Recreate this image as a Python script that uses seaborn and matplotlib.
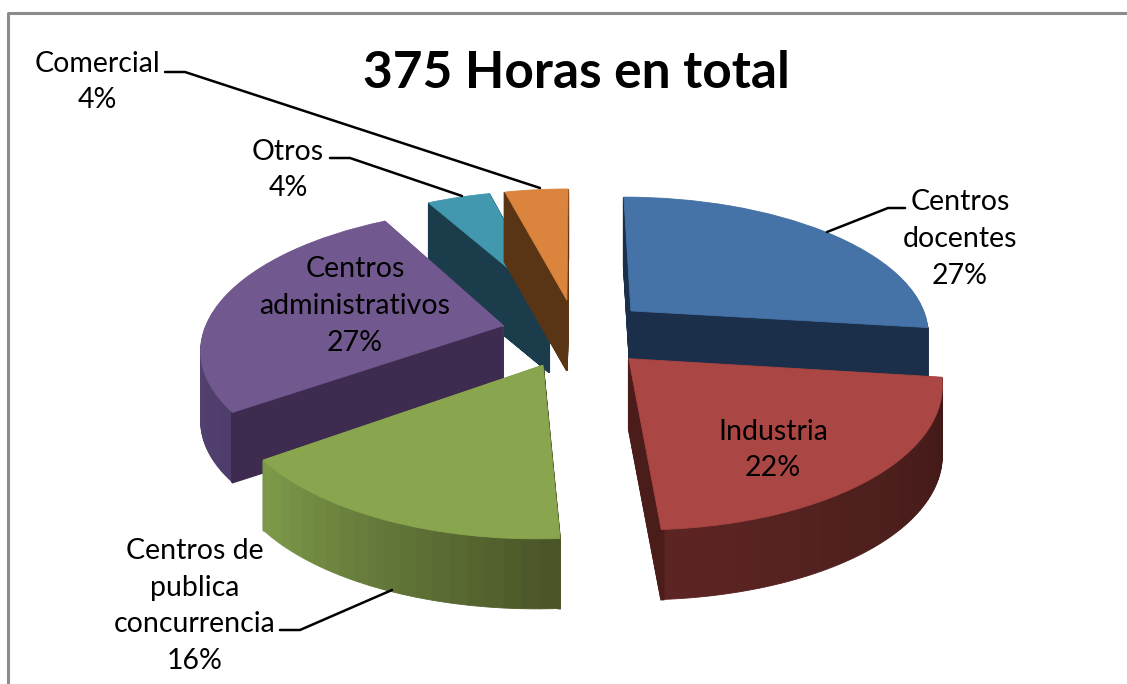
import numpy as np
import seaborn as sb
import matplotlib
matplotlib.use('Agg')
import matplotlib.pyplot as plt
from matplotlib.transforms import Transform

categories = ['Centros\ndocentes', 'Industria', 'Centros de\npublica\nconcurrencia',
              'Centros\nadministrativos', 'Otros', 'Comercial']
percents = [27, 22, 16, 27, 4, 4]
top_colors = ['#4572A7', '#AA4643', '#89A54E', '#71588F', '#4198AF', '#DB843D']
# wall colours along the rim, clockwise, first/last are the cut faces
cut_first = ['#1B2F4A', '#431A18', '#4A5628', '#3D2C50', '#1B3C4A', '#5A3515']
cut_last = ['#1B2F4A', '#4A1C1A', '#7A9648', '#5C4A7A', '#1B3C4A', '#5A3515']
rim_start = ['#1B2F4A', '#401917', '#4A5628', '#4F3E6C', '#1B3C4A', '#5A3515']
rim_end = ['#1B2F4A', '#5C2523', '#7D9A4A', '#64507F', '#1B3C4A', '#5A3515']
draw_order = [4, 5, 3, 0, 2, 1]  # back to front

label_xy = [(960, 239), (773, 450), (195, 606), (355, 306), (288, 170), (97, 82)]
leaders = [[(827, 232), (888, 208), (905, 208)],
           [],
           [(280, 630), (300, 630), (392, 590)],
           [],
           [(330, 158), (350, 158), (462, 196)],
           [(165, 72), (185, 72), (540, 188)]]

CENTER = (576, 333)
RX, RY, PERSP = 300, 137, 0.15
EXPLODE = 0.25
DEPTH = 70
STEP = 1
N_RIM = 20


class Tilt(Transform):
    # turns the flat unit pie into picture pixels, seen at an angle
    input_dims = 2
    output_dims = 2

    def __init__(self, drop):
        super().__init__()
        self.drop = drop

    def transform_non_affine(self, xy):
        xy = np.asarray(xy)
        w = 1 + PERSP * xy[:, 1]
        return np.column_stack([CENTER[0] + RX * xy[:, 0] / w,
                                CENTER[1] - RY * xy[:, 1] / w + self.drop])


sb.set_theme(style='white')
plt.rcParams['font.family'] = ['Lato', 'DejaVu Sans']
fig = plt.figure(figsize=(11.27, 6.84), dpi=100)
ax = fig.add_axes([0, 0, 1, 1])

fracs = np.array(percents) / sum(percents)
starts = np.cumsum(np.r_[0, fracs[:-1]])


def draw_layer(i, drop, zorder, colors, parts):
    mid = 2 * np.pi * (starts[i] + fracs[i] / 2)
    center = (EXPLODE * np.sin(mid), EXPLODE * np.cos(mid))
    wedges, _ = ax.pie(parts, colors=colors, radius=1, center=center, normalize=False,
                       startangle=90 - 360 * starts[i], counterclock=False)
    last = len(wedges) - 1
    for n, (w, c) in enumerate(zip(wedges, colors)):
        w.set_transform(Tilt(drop) + ax.transData)
        w.set_clip_on(False)
        # cut faces go over the rim strips so they stay clean
        is_cut = len(wedges) > 1 and n in (0, last)
        w.set_zorder(zorder + (0.5 if is_cut else 0))
        w.set_edgecolor(c)
        w.set_linewidth(1.4 if is_cut else 0.6)


for rank, i in enumerate(draw_order):
    base = (rank + 1) * 1000
    thin = fracs[i] * 0.004
    rim = [(fracs[i] - 2 * thin) / N_RIM] * N_RIM
    parts = [thin] + rim + [thin]
    pal = sb.blend_palette([rim_start[i], rim_end[i]], N_RIM)
    wall = [cut_first[i]] + list(pal) + [cut_last[i]]
    for k, drop in enumerate(range(DEPTH, 0, -STEP)):
        draw_layer(i, drop, base + k, wall, parts)
    draw_layer(i, 0, base + 500, [top_colors[i]], [fracs[i]])

ax.set_aspect('auto')
ax.set_xlim(0, 1127)
ax.set_ylim(684, 0)
ax.axis('off')

# chart frame
ax.plot([8, 8, 1127], [684, 13, 13], color='#8C8C8C', lw=2.2, zorder=9000, clip_on=False)

ax.text(576, 73, '375 Horas en total', fontsize=37, fontweight='bold', color='black',
        ha='center', va='center', zorder=9000)

for name, pct, (x, y), line in zip(categories, percents, label_xy, leaders):
    ax.text(x, y, f'{name}\n{pct}%', fontsize=20.5, color='black', ha='center', va='center',
            linespacing=1.52, zorder=9100)
    if line:
        ax.plot(*zip(*line), color='black', lw=1.8, zorder=9050)

plt.savefig('out.png', dpi=100)
plt.close()
